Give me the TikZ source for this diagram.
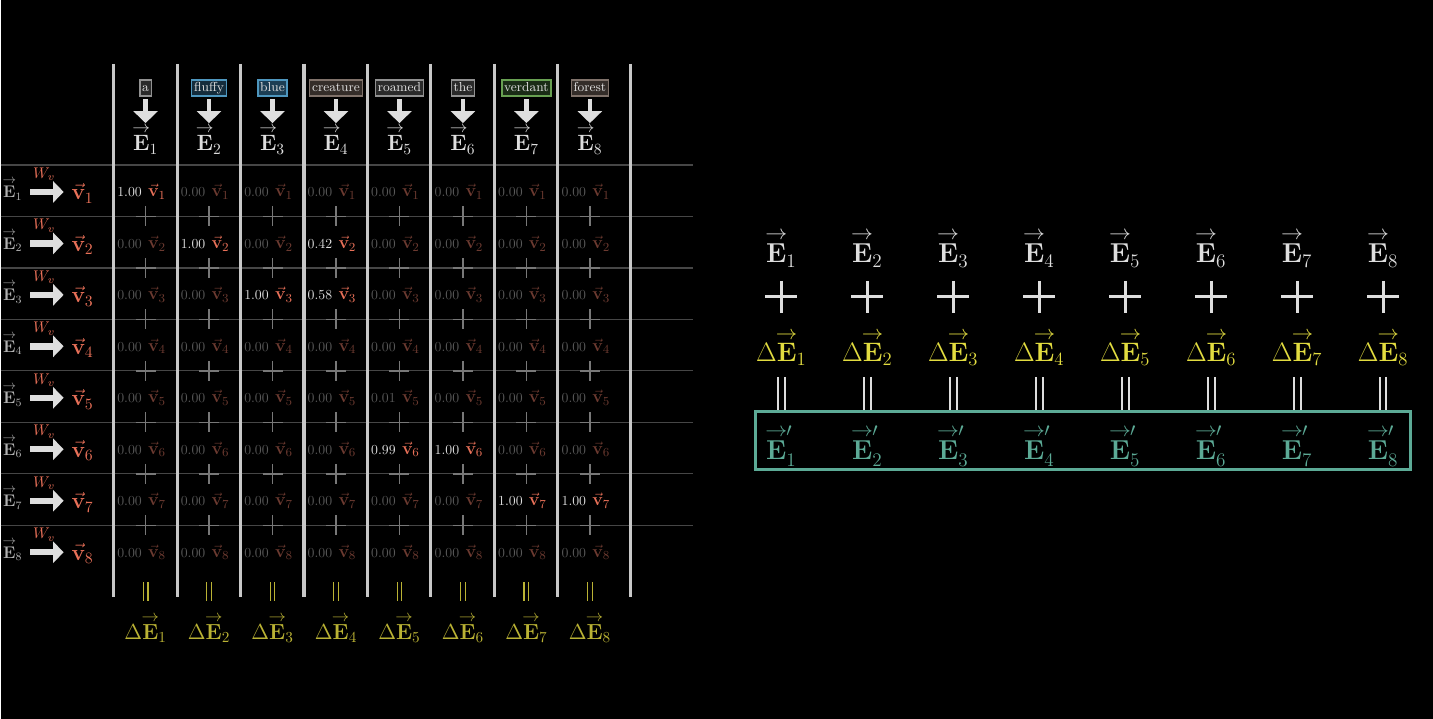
\RequirePackage{fix-cm}
\documentclass[tikz,border=0pt]{standalone}
\usepackage{amsmath,amssymb}
\usepackage{graphicx}
\usepackage{tikz}
\usetikzlibrary{arrows.meta,positioning,calc}

\definecolor{gridline}{RGB}{200,200,200}
\definecolor{rowline}{RGB}{70,70,70}
\definecolor{dimplus}{RGB}{120,120,120}
\definecolor{dimnum}{RGB}{88,88,88}
\definecolor{dimred}{RGB}{108,58,48}
\definecolor{valred}{RGB}{232,112,88}
\definecolor{deltayellow}{RGB}{226,220,64}
\definecolor{dimyellow}{RGB}{186,178,52}
\definecolor{outteal}{RGB}{92,170,150}
\definecolor{softwhite}{RGB}{222,222,222}
\definecolor{labgrey}{RGB}{178,178,178}
\definecolor{wdgrey}{RGB}{145,145,145}
\definecolor{wdgreyf}{RGB}{42,42,42}
\definecolor{wdblue}{RGB}{78,150,190}
\definecolor{wdbluef}{RGB}{20,44,60}
\definecolor{wdbluem}{RGB}{28,62,84}
\definecolor{wdbrown}{RGB}{128,114,106}
\definecolor{wdbrownf}{RGB}{52,45,41}
\definecolor{wdgreen}{RGB}{104,160,82}
\definecolor{wdgreenf}{RGB}{26,44,22}

\newcommand{\vE}{\mbox{\ooalign{\hidewidth\raisebox{0.84em}{\scalebox{0.8}[0.75]{$\rightarrow$}}\hidewidth\cr$\mathbf{E}$\cr}}}
\newcommand{\vV}{\vec{\mathbf{v}}}

\begin{document}
\begin{tikzpicture}[x=0.025cm, y=-0.025cm,
    word/.style={draw, line width=0.9pt, inner sep=1.6pt, text height=6.4pt, text depth=1.9pt,
      text=softwhite, font=\fontsize{9.3}{10}\selectfont},
    hdrvec/.style={anchor=base, inner sep=0pt, text=softwhite, font=\fontsize{15.8}{17}\selectfont},
    rowvec/.style={anchor=base, inner sep=0pt, text=labgrey, font=\fontsize{12}{13}\selectfont},
    valvec/.style={anchor=base, inner sep=0pt, text=valred, font=\fontsize{16}{17}\selectfont},
    wvlab/.style={midway, yshift=12.5pt, xshift=-2pt, inner sep=0pt, text=valred, font=\fontsize{11}{12}\selectfont},
    cell/.style={anchor=base, inner sep=0pt, font=\fontsize{9.8}{11}\selectfont},
    dEbot/.style={anchor=base, inner sep=0pt, text=dimyellow, font=\fontsize{15.5}{17}\selectfont},
    rvec/.style={anchor=base, inner sep=0pt, text=softwhite, font=\fontsize{19.5}{21}\selectfont},
    rdelta/.style={anchor=base, inner sep=0pt, text=deltayellow, font=\fontsize{19}{21}\selectfont},
    rout/.style={anchor=base, inner sep=0pt, text=outteal, font=\fontsize{19.5}{21}\selectfont},
    hdrarrow/.style={softwhite, line width=3.2pt, -{Triangle[width=17pt,length=8.5pt]},
      shorten <=1.5pt, shorten >=2pt},
    rowarrow/.style={softwhite, line width=4.5pt, -{Triangle[width=15pt,length=7.5pt]},
      shorten <=5.5pt, shorten >=5.5pt},
    ybar/.style={dimyellow, line width=0.8pt, double=black, double distance=2.6pt},
    wbar/.style={softwhite, line width=1.4pt, double=black, double distance=3.5pt},
    bigplus/.style={softwhite, line width=2.1pt}]

% background and frame of the picture
\fill[black] (0,0) rectangle (1433,719);

% row separators and the grey plus signs
\foreach \y in {165,216.5,268,319.5,371,422.5,474,525.5}
  \draw[rowline, line width=0.9pt] (0,\y) -- (693,\y);
\foreach \c in {1,...,8}{
  \foreach \y in {216.5,268,319.5,371,422.5,474,525.5}
    \draw[dimplus, line width=1pt] ({145+63.5*(\c-1)-10},\y) -- ({145+63.5*(\c-1)+10},\y)
      ({145+63.5*(\c-1)},\y-10) -- ({145+63.5*(\c-1)},\y+10);
}
\foreach \x in {113,176.5,240,303.5,367,430.5,494,557.5,630}
  \draw[gridline, line width=2.2pt] (\x,64) -- (\x,597);

% column heads: token, arrow, embedding
\foreach \tok/\bc/\fc [count=\i] in {a/wdgrey/wdgreyf, fluffy/wdblue/wdbluef, blue/wdblue/wdbluem,
    creature/wdbrown/wdbrownf, roamed/wdgrey/wdgreyf, the/wdgrey/wdgreyf,
    verdant/wdgreen/wdgreenf, forest/wdbrown/wdbrownf}{
  \node[word, draw=\bc, fill=\fc] (word-\i) at ({145+63.5*(\i-1)},88) {\tok};
  \node[hdrvec] (hE-\i) at ({145+63.5*(\i-1)},151) {$\vE_{\i}$};
  \draw[hdrarrow] (word-\i) -- (hE-\i);
}

% row heads: E_i --W_v--> v_i
\foreach \r in {1,...,8}{
  \pgfmathsetmacro\ry{191+51.5*(\r-1)}
  \node[rowvec] (lab-\r) at (12,\ry+7) {$\vE_{\r}$};
  \node[valvec] (vv-\r) at (82,\ry+9) {$\vV_{\r}$};
  \draw[rowarrow] (lab-\r.east |- 0,\ry+1) -- node[wvlab] (wv-\r) {$W_v$} (vv-\r.west |- 0,\ry+1);
}

% weighted value vectors
\foreach \r/\vals in {1/{1.00,0.00,0.00,0.00,0.00,0.00,0.00,0.00},
    2/{0.00,1.00,0.00,0.42,0.00,0.00,0.00,0.00},
    3/{0.00,0.00,1.00,0.58,0.00,0.00,0.00,0.00},
    4/{0.00,0.00,0.00,0.00,0.00,0.00,0.00,0.00},
    5/{0.00,0.00,0.00,0.00,0.01,0.00,0.00,0.00},
    6/{0.00,0.00,0.00,0.00,0.99,1.00,0.00,0.00},
    7/{0.00,0.00,0.00,0.00,0.00,0.00,1.00,1.00},
    8/{0.00,0.00,0.00,0.00,0.00,0.00,0.00,0.00}}{
  \foreach \wt [count=\c] in \vals {
    \ifdim\wt pt>0.05pt \def\nc{softwhite}\def\vc{valred}\else\def\nc{dimnum}\def\vc{dimred}\fi
    \node[cell] (cell-\r-\c) at ({145+63.5*(\c-1)-4},{197+51.5*(\r-1)})
      {\textcolor{\nc}{\wt}\hspace{4.5pt}{\fontsize{12.5}{13}\selectfont\textcolor{\vc}{$\vV_{\r}$}}};
  }
}

% column sums
\foreach \i in {1,...,8}{
  \node[dEbot] (dE-\i) at ({145+63.5*(\i-1)},640) {$\Delta\vE_{\i}$};
  \draw[ybar] (dE-\i.north |- 0,582) -- (dE-\i.north |- 0,601);
}

% right side: E + dE = E'
\node[draw=outteal, line width=2.1pt, minimum width=16.375cm, minimum height=1.45cm] (box) at (1082.5,441) {};
\foreach \i in {1,...,8}{
  \pgfmathsetmacro\X{781+86*(\i-1)}
  \node[rvec] (rE-\i) at (\X,263) {$\vE_{\i}$};
  \draw[bigplus] (\X-16,297) -- (\X+16,297) (\X,281) -- (\X,313);
  \node[rdelta] (rdE-\i) at (\X,362) {$\Delta\vE_{\i}$};
  \node[rout] (rEp-\i) at (\X,460) {$\vE'_{\i}$};
  \draw[wbar] (rdE-\i.south |- 0,377) -- (rdE-\i.south |- box.north);
}
\end{tikzpicture}
\end{document}
